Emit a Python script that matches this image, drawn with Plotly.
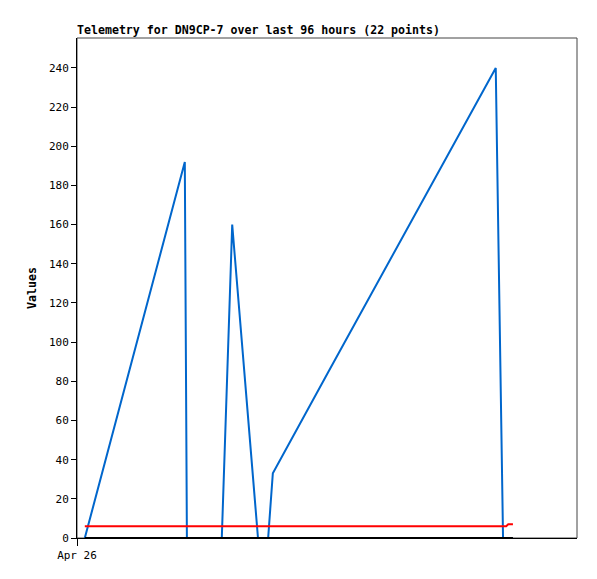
import plotly.graph_objects as go
from datetime import datetime, timedelta

# hours after Apr 26 00:00
hours = [1.5, 6.3, 11.1, 15.9, 20.7, 21.1, 23.6, 25.9, 27.8, 29.8, 34.75,
         36.7, 37.6, 48.3, 58.9, 69.7, 80.4, 81.8, 82.4, 82.8, 83.2, 83.7]
blue_vals = [0, 48, 96, 144, 192, 0, 0, 0, 0, 160, 0,
             0, 33, 85, 136, 188, 240, 0, 0, 0, 0, 0]
red_vals = [6, 6, 6, 6, 6, 6, 6, 6, 6, 6, 6,
            6, 6, 6, 6, 6, 6, 6, 6, 7, 7, 7]
black_vals = [0] * 22

start = datetime(2024, 4, 26, 0, 0)
times = [start + timedelta(hours=h) for h in hours]
x_end = start + timedelta(hours=96)

FONT = "DejaVu Sans Mono"

fig = go.Figure()
fig.add_trace(go.Scatter(x=times, y=blue_vals, mode="lines",
                         line=dict(color="#0066CC", width=2), showlegend=False))
fig.add_trace(go.Scatter(x=times, y=red_vals, mode="lines",
                         line=dict(color="#FF0000", width=2), showlegend=False))
fig.add_trace(go.Scatter(x=times, y=black_vals, mode="lines",
                         line=dict(color="#000000", width=2), showlegend=False))

fig.add_shape(type="rect", xref="paper", yref="paper", x0=0, y0=0, x1=1, y1=1,
              line=dict(color="#444444", width=1), layer="below")

H = 571
fig.update_layout(
    width=589, height=H,
    margin=dict(l=69, r=20, t=30, b=41),
    paper_bgcolor="white", plot_bgcolor="white",
    font=dict(family=FONT, size=11, color="black"),
    title=dict(text="<b>Telemetry for DN9CP-7 over last 96 hours (22 points)</b>",
               x=0, xref="paper", xanchor="left",
               y=1 - 22 / H, yref="container", yanchor="middle",
               font=dict(family=FONT, size=11.6, color="black")),
    xaxis=dict(range=[start, x_end], tickvals=[start], ticktext=["Apr 26"],
               showgrid=False, zeroline=False, showline=True, linecolor="black",
               linewidth=1, ticks="outside", ticklen=7, tickcolor="black"),
    yaxis=dict(range=[0, 255.3], tickvals=list(range(0, 241, 20)),
               showgrid=False, zeroline=False, showline=True, linecolor="black",
               linewidth=1, ticks="outside", ticklen=5, tickcolor="black",
               title=dict(text="<b>Values</b>", font=dict(family=FONT, size=11.6),
                          standoff=9)),
)

fig.write_html("out.html")
